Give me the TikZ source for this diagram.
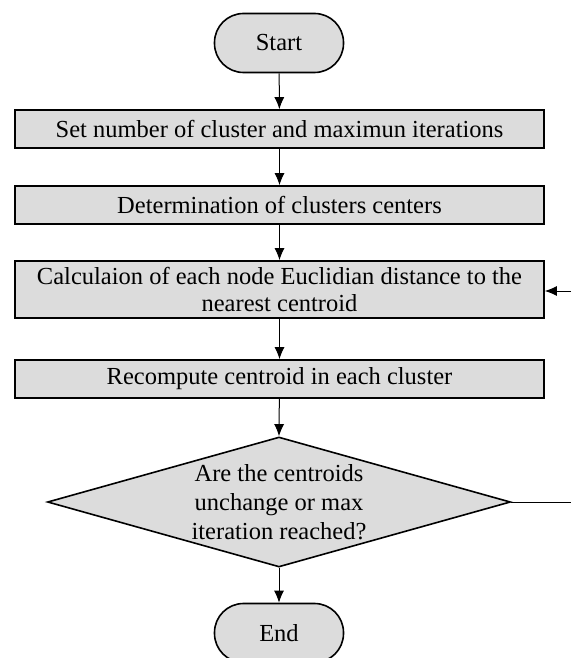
\documentclass[tikz,border=0pt]{standalone}
\usepackage{fontspec}
\setmainfont{Liberation Serif}
\usetikzlibrary{shapes.geometric,arrows.meta}
\definecolor{boxfill}{HTML}{DCDCDC}
\tikzset{
  base/.style={draw=black, line width=1.6pt, fill=boxfill, font=\fontsize{24.5}{27}\selectfont, inner sep=0pt},
  procbox/.style={base, rectangle, minimum width=529pt, align=center},
  term/.style={base, rounded corners=29pt, minimum width=129pt, minimum height=59pt},
  decide/.style={base, diamond, minimum width=463pt, minimum height=130pt, aspect=3.56, align=center},
  conn/.style={line width=1pt, -{Latex[length=12pt,width=10pt]}},
  plain/.style={line width=1pt}
}
\begin{document}
\begin{tikzpicture}[x=1pt,y=-1pt]
\useasboundingbox (0,0) rectangle (571,658);
\node[term] (start) at (279,43) {Start};
\node[procbox, minimum height=38pt] (b1) at (279.5,129) {Set number of cluster and maximun iterations};
\node[procbox, minimum height=38pt] (b2) at (279.5,205) {Determination of clusters centers};
\node[procbox, minimum height=57pt] (b3) at (279.5,289.5) {Calculaion of each node Euclidian distance to the\\nearest centroid};
\node[procbox, minimum height=38pt] (b4) at (279.5,379) {Recompute centroid in each cluster};
\node[decide] (d) at (279,502) {};
\node[font=\fontsize{24.5}{29}\selectfont, align=center] (dt) at (279,502) {Are the centroids\\unchange or max\\iteration reached?};
\node[term] (end) at (279,633) {End};
\coordinate (r1) at (571,502);
\coordinate (r2) at (571,291);
\draw[conn] (start) -- (b1);
\draw[conn] (b1) -- (b2);
\draw[conn] (b2) -- (b3);
\draw[conn] (b3) -- (b4);
\draw[conn] (b4) -- (d.north);
\draw[conn] (d.south) -- (end);
\draw[plain] (d.east) -- (r1);
\draw[conn] (r2) -- (b3.east |- r2);
\end{tikzpicture}
\end{document}
